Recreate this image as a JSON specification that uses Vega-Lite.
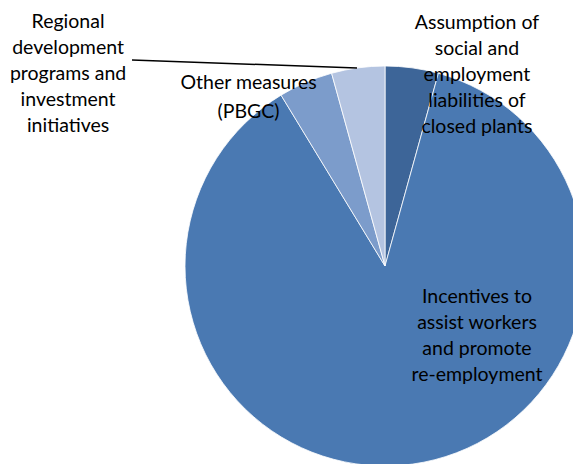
{
  "$schema": "https://vega.github.io/schema/vega-lite/v6.json",
  "width": 376,
  "height": 396,
  "autosize": {"type": "none"},
  "padding": {"left": 197, "top": 68, "right": 0, "bottom": 0},
  "background": "white",
  "config": {"view": {"stroke": null}},
  "data": {
    "values": [
      {"cat": "Assumption of social and employment liabilities of closed plants", "label": "Assumption of|social and|employment|liabilities of|closed plants", "value": 4.3},
      {"cat": "Incentives to assist workers and promote re-employment", "label": "Incentives to|assist workers|and promote|re-employment", "value": 87.0},
      {"cat": "Other measures (PBGC)", "label": "Other measures|(PBGC)", "value": 4.4},
      {"cat": "Regional development programs and investment initiatives", "label": "Regional|development|programs and|investment|initiatives", "value": 4.3}
    ]
  },
  "layer": [
    {
      "mark": {"type": "arc", "radius": 200, "stroke": "white", "strokeWidth": 0.8},
      "encoding": {
        "theta": {"field": "value", "type": "quantitative", "stack": true},
        "color": {
          "field": "cat",
          "type": "nominal",
          "legend": null,
          "scale": {"range": ["#3D6598", "#4A79B2", "#7C9CCB", "#B4C4E1"]}
        }
      }
    },
    {
      "data": {"values": [{"leader": "Regional"}]},
      "mark": {"type": "rule", "color": "black", "strokeWidth": 1.5},
      "encoding": {
        "x": {"value": -65},
        "y": {"value": -8},
        "x2": {"value": 160},
        "y2": {"value": 0}
      }
    },
    {
      "mark": {"type": "text", "radius": 200, "dx": 65, "dy": -45, "align": "center", "baseline": "middle", "lineBreak": "|", "lineHeight": 26, "font": "Lato", "fontSize": 19.5, "color": "black"},
      "encoding": {
        "theta": {"field": "value", "type": "quantitative", "stack": true},
        "detail": {"field": "cat", "type": "nominal"},
        "text": {"condition": {"test": "datum.cat === 'Assumption of social and employment liabilities of closed plants'", "field": "label"}, "value": ""}
      }
    },
    {
      "mark": {"type": "text", "radius": 0, "dx": 92, "dy": 31, "align": "center", "baseline": "middle", "lineBreak": "|", "lineHeight": 26, "font": "Lato", "fontSize": 19.5, "color": "black"},
      "encoding": {
        "theta": {"field": "value", "type": "quantitative", "stack": true},
        "detail": {"field": "cat", "type": "nominal"},
        "text": {"condition": {"test": "datum.cat === 'Incentives to assist workers and promote re-employment'", "field": "label"}, "value": ""}
      }
    },
    {
      "mark": {"type": "text", "radius": 200, "dx": -57, "dy": 1, "align": "center", "baseline": "middle", "lineBreak": "|", "lineHeight": 29, "font": "Lato", "fontSize": 19.5, "color": "black"},
      "encoding": {
        "theta": {"field": "value", "type": "quantitative", "stack": true},
        "detail": {"field": "cat", "type": "nominal"},
        "text": {"condition": {"test": "datum.cat === 'Other measures (PBGC)'", "field": "label"}, "value": ""}
      }
    },
    {
      "mark": {"type": "text", "radius": 200, "dx": -290, "dy": -46, "align": "center", "baseline": "middle", "lineBreak": "|", "lineHeight": 26, "font": "Lato", "fontSize": 19.5, "color": "black"},
      "encoding": {
        "theta": {"field": "value", "type": "quantitative", "stack": true},
        "detail": {"field": "cat", "type": "nominal"},
        "text": {"condition": {"test": "datum.cat === 'Regional development programs and investment initiatives'", "field": "label"}, "value": ""}
      }
    }
  ]
}
